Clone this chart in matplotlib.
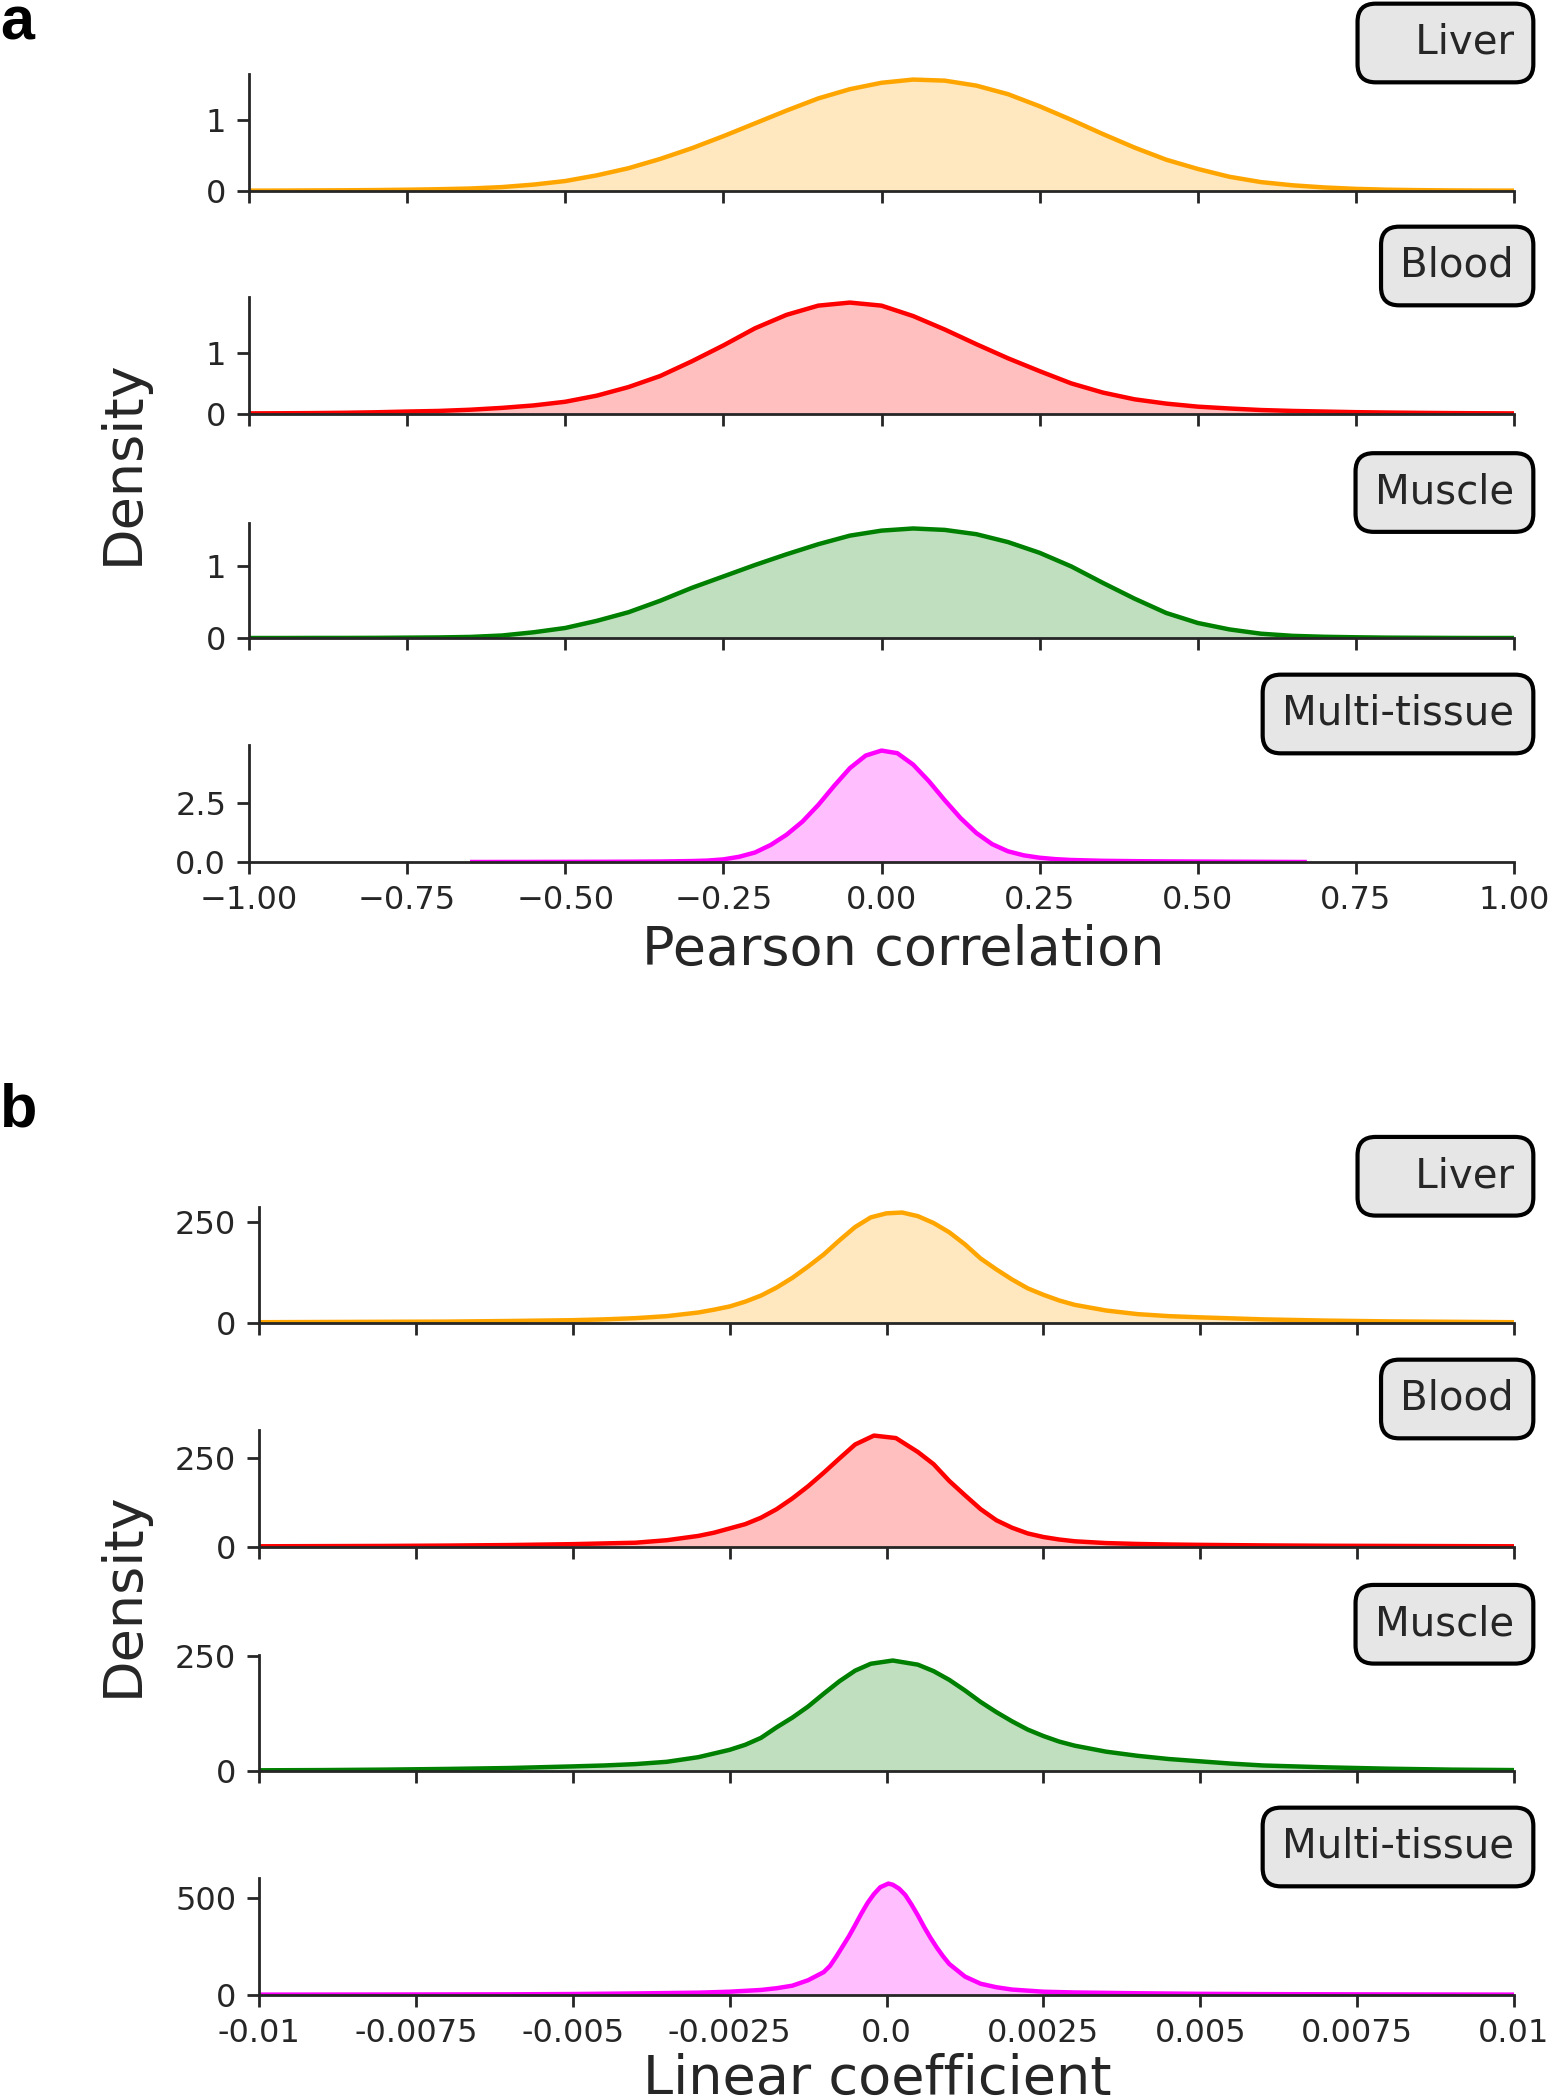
import numpy as np
import matplotlib
matplotlib.use("Agg")
import matplotlib.pyplot as plt

# ---------------- data ----------------
tissues = ["Liver", "Blood", "Muscle", "Multi-tissue"]
box_labels = ["   Liver", "Blood", "Muscle", "Multi-tissue"]
line_colors = ["orange", "red", "green", "magenta"]

# Panel a: Pearson correlation densities
a_x = [-1.00, -0.95, -0.90, -0.85, -0.80, -0.75, -0.70, -0.65, -0.60, -0.55,
       -0.50, -0.45, -0.40, -0.35, -0.30, -0.25, -0.20, -0.15, -0.10, -0.05,
       0.00, 0.05, 0.10, 0.15, 0.20, 0.25, 0.30, 0.35, 0.40, 0.45,
       0.50, 0.55, 0.60, 0.65, 0.70, 0.75, 0.80, 0.85, 0.90, 0.95, 1.00]
a_liver = [0.005, 0.006, 0.008, 0.010, 0.013, 0.018, 0.025, 0.035, 0.055, 0.09,
           0.14, 0.22, 0.32, 0.45, 0.60, 0.77, 0.95, 1.13, 1.30, 1.43,
           1.52, 1.565, 1.55, 1.48, 1.36, 1.19, 1.00, 0.80, 0.61, 0.44,
           0.31, 0.20, 0.125, 0.08, 0.05, 0.03, 0.018, 0.012, 0.008, 0.006, 0.005]
a_blood = [0.01, 0.012, 0.015, 0.02, 0.028, 0.04, 0.05, 0.07, 0.10, 0.14,
           0.20, 0.30, 0.44, 0.62, 0.86, 1.12, 1.40, 1.62, 1.77, 1.82,
           1.77, 1.60, 1.38, 1.14, 0.91, 0.70, 0.50, 0.35, 0.24, 0.17,
           0.12, 0.09, 0.065, 0.05, 0.04, 0.03, 0.024, 0.019, 0.015, 0.012, 0.01]
a_muscle = [0.0, 0.0, 0.001, 0.001, 0.002, 0.005, 0.008, 0.015, 0.035, 0.08,
            0.14, 0.24, 0.36, 0.52, 0.70, 0.86, 1.02, 1.17, 1.31, 1.43,
            1.50, 1.53, 1.51, 1.45, 1.34, 1.19, 1.00, 0.77, 0.55, 0.35,
            0.21, 0.12, 0.06, 0.03, 0.017, 0.01, 0.005, 0.003, 0.001, 0.0, 0.0]
a_multi_x = [-0.647, -0.55, -0.45, -0.40, -0.35, -0.30, -0.275, -0.25, -0.225, -0.20,
             -0.175, -0.15, -0.125, -0.10, -0.075, -0.05, -0.025, 0.0, 0.025, 0.05,
             0.075, 0.10, 0.125, 0.15, 0.175, 0.20, 0.225, 0.25, 0.275, 0.30,
             0.35, 0.40, 0.45, 0.55, 0.669]
a_multi = [0.0, 0.003, 0.008, 0.012, 0.02, 0.04, 0.06, 0.11, 0.22, 0.40,
           0.72, 1.15, 1.70, 2.40, 3.20, 3.95, 4.48, 4.69, 4.58, 4.10,
           3.40, 2.60, 1.85, 1.22, 0.75, 0.45, 0.28, 0.18, 0.12, 0.085,
           0.05, 0.035, 0.025, 0.012, 0.0]

# Panel b: linear coefficient densities
b_liver_x = [-0.01, -0.009, -0.008, -0.007, -0.006, -0.005, -0.0045, -0.004, -0.0035, -0.003,
             -0.00275, -0.0025, -0.00225, -0.002, -0.00175, -0.0015, -0.00125, -0.001, -0.00075, -0.0005,
             -0.00025, 0.0, 0.00025, 0.0005, 0.00075, 0.001, 0.00125, 0.0015, 0.00175, 0.002,
             0.00225, 0.0025, 0.00275, 0.003, 0.0035, 0.004, 0.0045, 0.005, 0.006, 0.007,
             0.008, 0.009, 0.01]
b_liver = [2, 2.5, 3, 3.5, 5, 7, 9, 12, 17, 26,
           33, 41, 53, 68, 88, 112, 140, 170, 205, 238,
           262, 272, 274, 265, 248, 225, 195, 160, 133, 108,
           86, 70, 56, 45, 31, 22, 17, 14, 9, 6,
           4, 3, 2]
b_blood_x = [-0.01, -0.009, -0.008, -0.007, -0.006, -0.005, -0.0045, -0.004, -0.0035, -0.003,
             -0.00275, -0.0025, -0.00225, -0.002, -0.00175, -0.0015, -0.00125, -0.001, -0.00075, -0.0005,
             -0.0002, 0.00015, 0.0005, 0.00075, 0.001, 0.00125, 0.0015, 0.00175, 0.002, 0.00225,
             0.0025, 0.00275, 0.003, 0.0035, 0.004, 0.0045, 0.005, 0.006, 0.007, 0.008,
             0.009, 0.01]
b_blood = [2, 2.5, 3, 4, 5.5, 8, 10, 12, 19, 31,
           40, 52, 64, 82, 106, 136, 170, 208, 248, 287,
           312, 305, 266, 232, 185, 145, 106, 75, 54, 38,
           28, 21, 16, 11, 8.5, 7, 6, 4.5, 3.5, 3,
           2.5, 2]
b_muscle_x = [-0.01, -0.009, -0.008, -0.007, -0.006, -0.005, -0.0045, -0.004, -0.0035, -0.003,
              -0.0025, -0.00225, -0.002, -0.00175, -0.0015, -0.00125, -0.001, -0.00075, -0.0005, -0.00025,
              0.0001, 0.0005, 0.00075, 0.001, 0.00125, 0.0015, 0.00175, 0.002, 0.00225, 0.0025,
              0.00275, 0.003, 0.0035, 0.004, 0.0045, 0.005, 0.0055, 0.006, 0.007, 0.008,
              0.009, 0.01]
b_muscle = [1.5, 2, 3, 4.5, 6.5, 10, 12, 15, 20, 30,
            46, 57, 72, 95, 116, 140, 168, 195, 218, 233,
            240, 231, 217, 198, 175, 150, 128, 108, 90, 76,
            64, 55, 42, 33, 26, 21, 16, 12, 8, 5,
            3, 2]
b_multi_x = [-0.01, -0.008, -0.006, -0.005, -0.004, -0.003, -0.0025, -0.002, -0.00175, -0.0015,
             -0.00125, -0.001, -0.0009, -0.0008, -0.0007, -0.0006, -0.0005, -0.0004, -0.0003, -0.0002,
             -0.0001, 0.00003, 0.0001, 0.0002, 0.0003, 0.0004, 0.0005, 0.0006, 0.0007, 0.0008,
             0.0009, 0.001, 0.00125, 0.0015, 0.00175, 0.002, 0.0025, 0.003, 0.004, 0.005,
             0.006, 0.008, 0.01]
b_multi = [2, 2.5, 3.5, 5, 8, 12, 17, 26, 35, 48,
           76, 118, 150, 198, 250, 302, 360, 420, 475, 520,
           555, 574, 568, 548, 515, 465, 410, 350, 295, 245,
           200, 160, 95, 58, 40, 28, 17, 13, 9, 6,
           4.5, 3, 2]

a_xticks = [-1.0, -0.75, -0.5, -0.25, 0.0, 0.25, 0.5, 0.75, 1.0]
a_xticklabels = ["\u22121.00", "\u22120.75", "\u22120.50", "\u22120.25", "0.00",
                 "0.25", "0.50", "0.75", "1.00"]
b_xticks = [-0.01, -0.0075, -0.005, -0.0025, 0.0, 0.0025, 0.005, 0.0075, 0.01]
b_xticklabels = ["-0.01", "-0.0075", "-0.005", "-0.0025", "0.0",
                 "0.0025", "0.005", "0.0075", "0.01"]
a_yticks = [[0, 1], [0, 1], [0, 1], [0.0, 2.5]]
a_yticklabels = [["0", "1"], ["0", "1"], ["0", "1"], ["0.0", "2.5"]]
b_yticks = [[0, 250], [0, 250], [0, 250], [0, 500]]
b_yticklabels = [["0", "250"], ["0", "250"], ["0", "250"], ["0", "500"]]

# ---------------- figure ----------------
W, H, DPI = 1552, 2100, 200
plt.rcParams['font.family'] = ['DejaVu Sans']
fig = plt.figure(figsize=(W / DPI, H / DPI), dpi=DPI)
TXT = "#262626"


def add_ax(left, right, top, bottom):
    return fig.add_axes([left / W, 1 - bottom / H, (right - left) / W, (bottom - top) / H])


a_rows = [(74, 191), (297, 414), (523, 638), (745, 862)]
b_rows = [(1207, 1323), (1430, 1547), (1655, 1771), (1878, 1995)]

a_series = [(a_x, a_liver), (a_x, a_blood), (a_x, a_muscle), (a_multi_x, a_multi)]
b_series = [(b_liver_x, b_liver), (b_blood_x, b_blood), (b_muscle_x, b_muscle), (b_multi_x, b_multi)]


def draw_panel(rows, left, series, xlim, xticks, xticklabels, yticks, yticklabels):
    for i, ((top, bottom), (xs, ys)) in enumerate(zip(rows, series)):
        ax = add_ax(left, 1514, top, bottom)
        col = line_colors[i]
        ax.fill_between(xs, ys, 0, color=col, alpha=0.25, lw=0)
        ax.plot(xs, ys, color=col, lw=1.6, solid_joinstyle='round')
        ax.set_xlim(*xlim)
        ax.set_ylim(bottom=0)
        ax.set_xticks(xticks)
        ax.set_yticks(yticks[i])
        ax.set_yticklabels(yticklabels[i])
        for s in ("top", "right"):
            ax.spines[s].set_visible(False)
        for s in ("left", "bottom"):
            ax.spines[s].set_color(TXT)
            ax.spines[s].set_linewidth(1.0)
        ax.tick_params(direction='out', length=4.2, width=1.0, colors=TXT,
                       labelsize=11.5, pad=4)
        if i == len(rows) - 1:
            ax.set_xticklabels(xticklabels)
        else:
            ax.tick_params(labelbottom=False)
        ax.patch.set_alpha(0)
        ax.text(1.0, 1.265, box_labels[i], transform=ax.transAxes, ha='right', va='center',
                fontsize=14.5, color=TXT, zorder=5,
                bbox=dict(boxstyle='round,pad=0.48,rounding_size=0.45', fc='#e6e6e6',
                          ec='black', lw=1.5))


draw_panel(a_rows, 249, a_series, (-1, 1), a_xticks, a_xticklabels, a_yticks, a_yticklabels)
draw_panel(b_rows, 259, b_series, (-0.01, 0.01), b_xticks, b_xticklabels, b_yticks, b_yticklabels)

# axis labels and panel letters
fig.text(903 / W, 1 - 965 / H, "Pearson correlation", ha='center', va='baseline',
         fontsize=19.5, color=TXT)
fig.text(877 / W, 1 - 2094 / H, "Linear coefficient", ha='center', va='baseline',
         fontsize=19.5, color=TXT)
fig.text(123 / W, 1 - 462 / H, "Density", rotation=90, ha='center', va='center',
         fontsize=19.5, color=TXT)
fig.text(123 / W, 1 - 1594 / H, "Density", rotation=90, ha='center', va='center',
         fontsize=19.5, color=TXT)
fig.text(0.0, 1 - 24 / H, "a", ha='left', va='center', fontsize=22, fontweight='bold',
         family=['Liberation Sans', 'DejaVu Sans'], color='black')
fig.text(0.0, 1 - 1111 / H, "b", ha='left', va='center', fontsize=22, fontweight='bold',
         family=['Liberation Sans', 'DejaVu Sans'], color='black')

fig.savefig("out.png", dpi=DPI, facecolor='white')
